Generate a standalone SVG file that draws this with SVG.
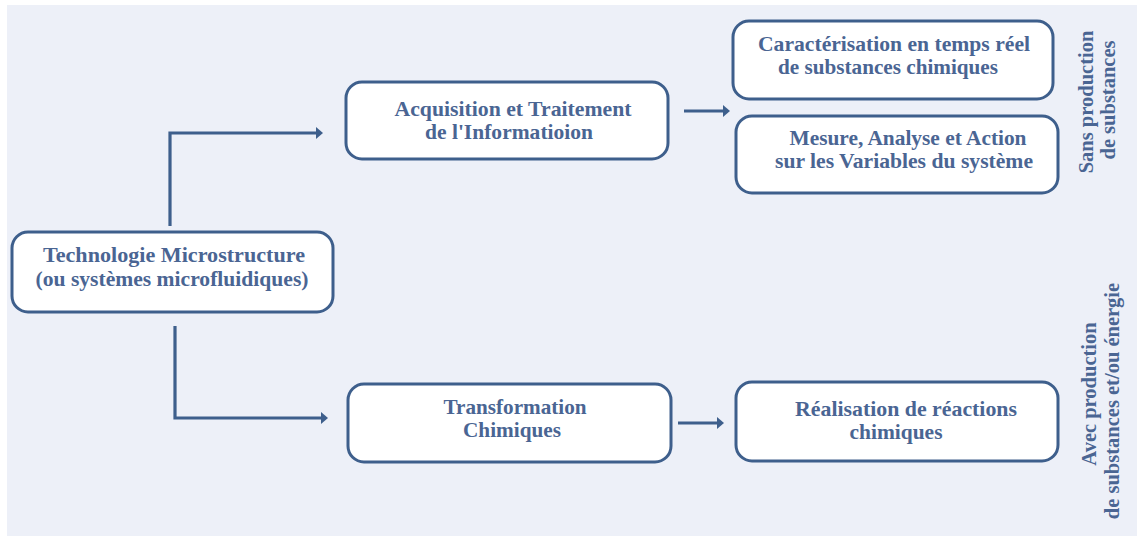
<svg xmlns="http://www.w3.org/2000/svg" width="1137" height="537" viewBox="0 0 1137 537">
  <style>
    .box { fill: #ffffff; stroke: #3e5f8c; stroke-width: 3; }
    .lbl { font-family: "Liberation Serif", "Times New Roman", serif; font-weight: bold; font-size: 21px; fill: #4a6593; text-anchor: middle; }
    .side { font-family: "Liberation Serif", "Times New Roman", serif; font-weight: bold; font-size: 20.5px; fill: #4a6593; text-anchor: middle; }
    .conn { fill: none; stroke: #3e5f8c; stroke-width: 3.2; }
  </style>
  <defs>
    <marker id="arrow" markerUnits="userSpaceOnUse" markerWidth="8" markerHeight="13" refX="2" refY="6" orient="auto">
      <path d="M0,0 L7,6 L0,12 Z" fill="#3e5f8c"/>
    </marker>
  </defs>

  <!-- page background -->
  <rect x="7" y="5" width="1130" height="531" fill="#edf0f8"/>

  <!-- connectors -->
  <g id="connectors">
    <path class="conn" d="M170,226 V133 H318" marker-end="url(#arrow)"/>
    <path class="conn" d="M175,326 V418 H323" marker-end="url(#arrow)"/>
    <path class="conn" d="M684,111 H725" marker-end="url(#arrow)"/>
    <path class="conn" d="M678,423 H719" marker-end="url(#arrow)"/>
  </g>

  <g id="node-technologie">
    <rect class="box" x="12" y="232" width="321" height="80" rx="16"/>
    <text class="lbl" x="174" y="262" textLength="262" lengthAdjust="spacingAndGlyphs">Technologie Microstructure</text>
    <text class="lbl" x="172" y="286" textLength="273" lengthAdjust="spacingAndGlyphs">(ou systèmes microfluidiques)</text>
  </g>

  <g id="node-acquisition">
    <rect class="box" x="346" y="82" width="322" height="77" rx="16"/>
    <text class="lbl" x="513" y="115.5" textLength="237" lengthAdjust="spacingAndGlyphs">Acquisition et Traitement</text>
    <text class="lbl" x="509" y="138.5" textLength="168" lengthAdjust="spacingAndGlyphs">de l'Informatioion</text>
  </g>

  <g id="node-caracterisation">
    <rect class="box" x="733" y="21" width="320" height="78" rx="16"/>
    <text class="lbl" x="894" y="50.5" textLength="272" lengthAdjust="spacingAndGlyphs">Caractérisation en temps réel</text>
    <text class="lbl" x="888" y="73.5" textLength="220" lengthAdjust="spacingAndGlyphs">de substances chimiques</text>
  </g>

  <g id="node-mesure">
    <rect class="box" x="736" y="116" width="322" height="77" rx="16"/>
    <text class="lbl" x="908" y="145" textLength="237" lengthAdjust="spacingAndGlyphs">Mesure, Analyse et Action</text>
    <text class="lbl" x="904" y="168" textLength="258" lengthAdjust="spacingAndGlyphs">sur les Variables du système</text>
  </g>

  <g id="node-transformation">
    <rect class="box" x="348" y="384" width="323" height="78" rx="16"/>
    <text class="lbl" x="515" y="414" textLength="143" lengthAdjust="spacingAndGlyphs">Transformation</text>
    <text class="lbl" x="512" y="437" textLength="98" lengthAdjust="spacingAndGlyphs">Chimiques</text>
  </g>

  <g id="node-realisation">
    <rect class="box" x="736" y="382" width="322" height="79" rx="16"/>
    <text class="lbl" x="906" y="415.5" textLength="222" lengthAdjust="spacingAndGlyphs">Réalisation de réactions</text>
    <text class="lbl" x="896" y="438.5" textLength="93" lengthAdjust="spacingAndGlyphs">chimiques</text>
  </g>

  <!-- side captions -->
  <g id="caption-sans">
    <text class="side" transform="translate(1093,102) rotate(-90)">Sans production</text>
    <text class="side" transform="translate(1115,100) rotate(-90)">de substances</text>
  </g>
  <g id="caption-avec">
    <text class="side" transform="translate(1096,394) rotate(-90)">Avec production</text>
    <text class="side" transform="translate(1119,401) rotate(-90)">de substances et/ou énergie</text>
  </g>
</svg>
